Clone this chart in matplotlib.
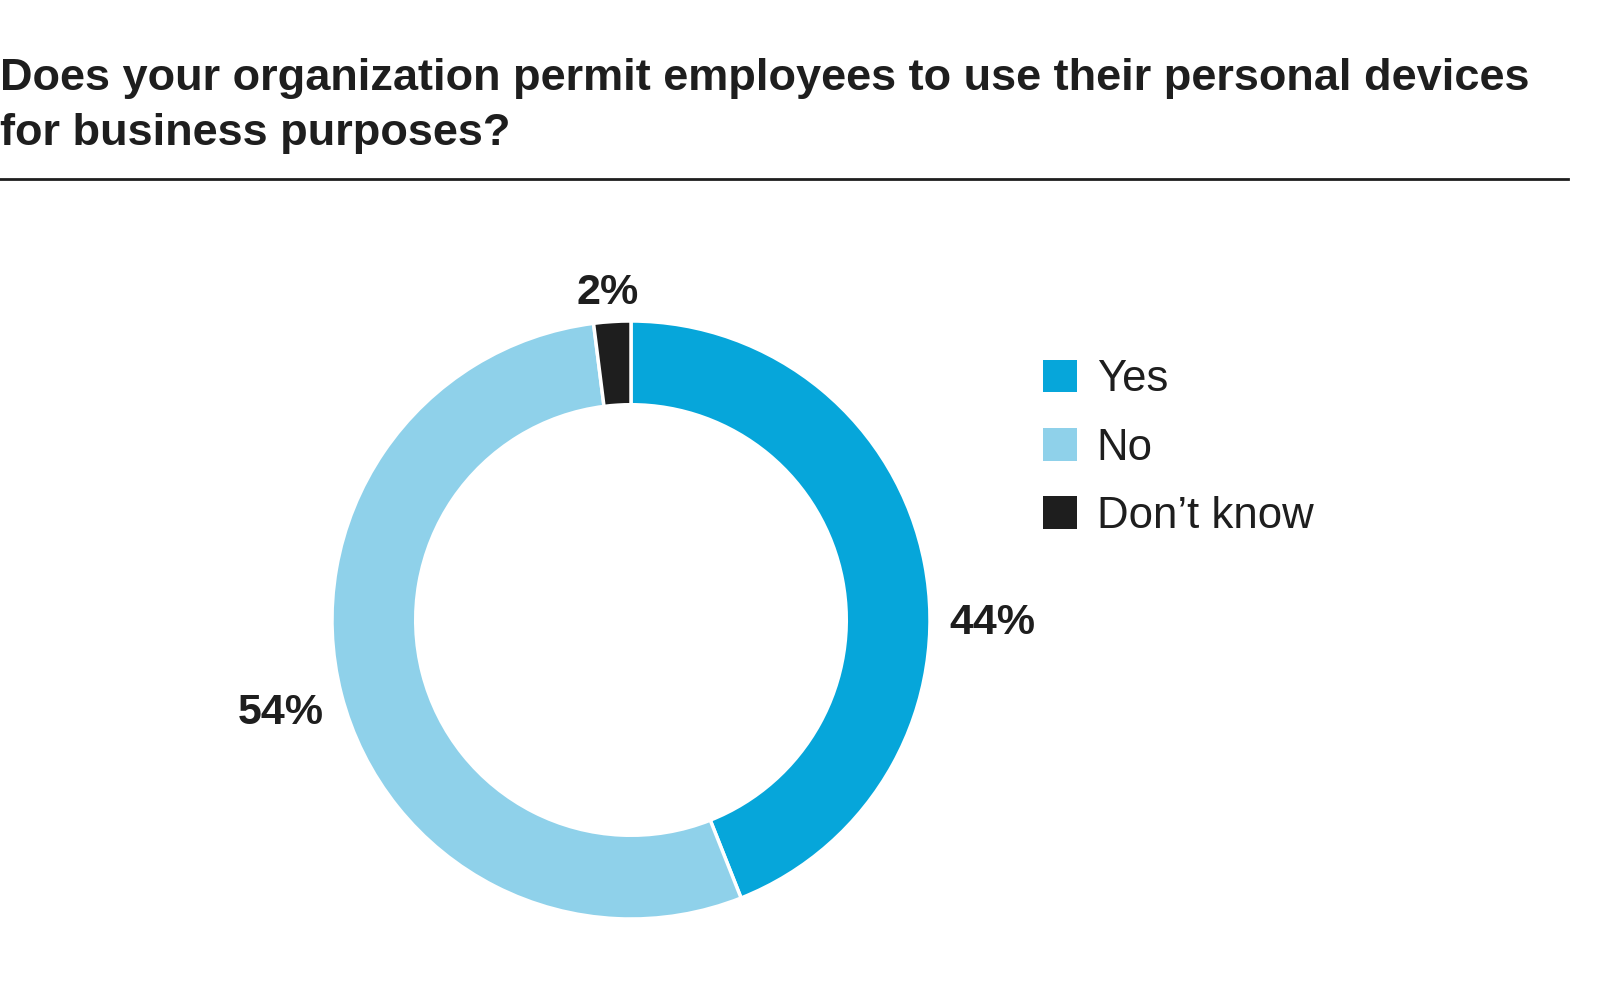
import matplotlib
matplotlib.use("Agg")
import matplotlib.pyplot as plt

title = "Does your organization permit employees to use their personal devices\nfor business purposes?"
labels = ["Yes", "No", "Don\u2019t know"]
values = [44, 54, 2]
pct_text = ["44%", "54%", "2%"]
colors = ["#06A6DA", "#8FD1EA", "#1E1E1E"]
# label positions in data units (pie radius = 1)
label_pos = [(1.21, -0.01), (-1.17, -0.31), (-0.077, 1.095)]

plt.rcParams['font.family'] = ['Liberation Sans', 'DejaVu Sans']
ink = "#1E1E1E"

fig = plt.figure(figsize=(16, 9.96), dpi=100)

# title and rule
fig.text(0.0, 1 - 58 / 996, title, ha="left", va="top", fontsize=32.5,
         fontweight="bold", color=ink, linespacing=1.45)
fig.add_artist(plt.Line2D([0, 1568 / 1600], [1 - 179 / 996] * 2,
                          transform=fig.transFigure, color=ink, lw=2))

# donut
r_px = 299
cx, cy = 631, 620
ax = fig.add_axes([(cx - r_px) / 1600, (996 - cy - r_px) / 996,
                   2 * r_px / 1600, 2 * r_px / 996])
wedges, _ = ax.pie(values, colors=colors, startangle=90, counterclock=False,
                   wedgeprops=dict(width=0.28, edgecolor="white", linewidth=2.5))
ax.set_xlim(-1, 1)
ax.set_ylim(-1, 1)
ax.set_aspect("equal")
ax.axis("off")

for (x, y), t in zip(label_pos, pct_text):
    ax.text(x, y, t, ha="center", va="center", fontsize=31,
            fontweight="bold", color=ink, clip_on=False)

leg = ax.legend(wedges, labels, loc="upper left",
                bbox_to_anchor=(1004 / 1600, 1 - 320 / 996),
                bbox_transform=fig.transFigure, frameon=False,
                fontsize=31.5, handlelength=0.77, handleheight=0.77,
                handletextpad=0.45, labelspacing=0.62, labelcolor=ink)
for h in leg.legend_handles:
    h.set_edgecolor("none")

fig.savefig("out.png", dpi=100, facecolor="white")
